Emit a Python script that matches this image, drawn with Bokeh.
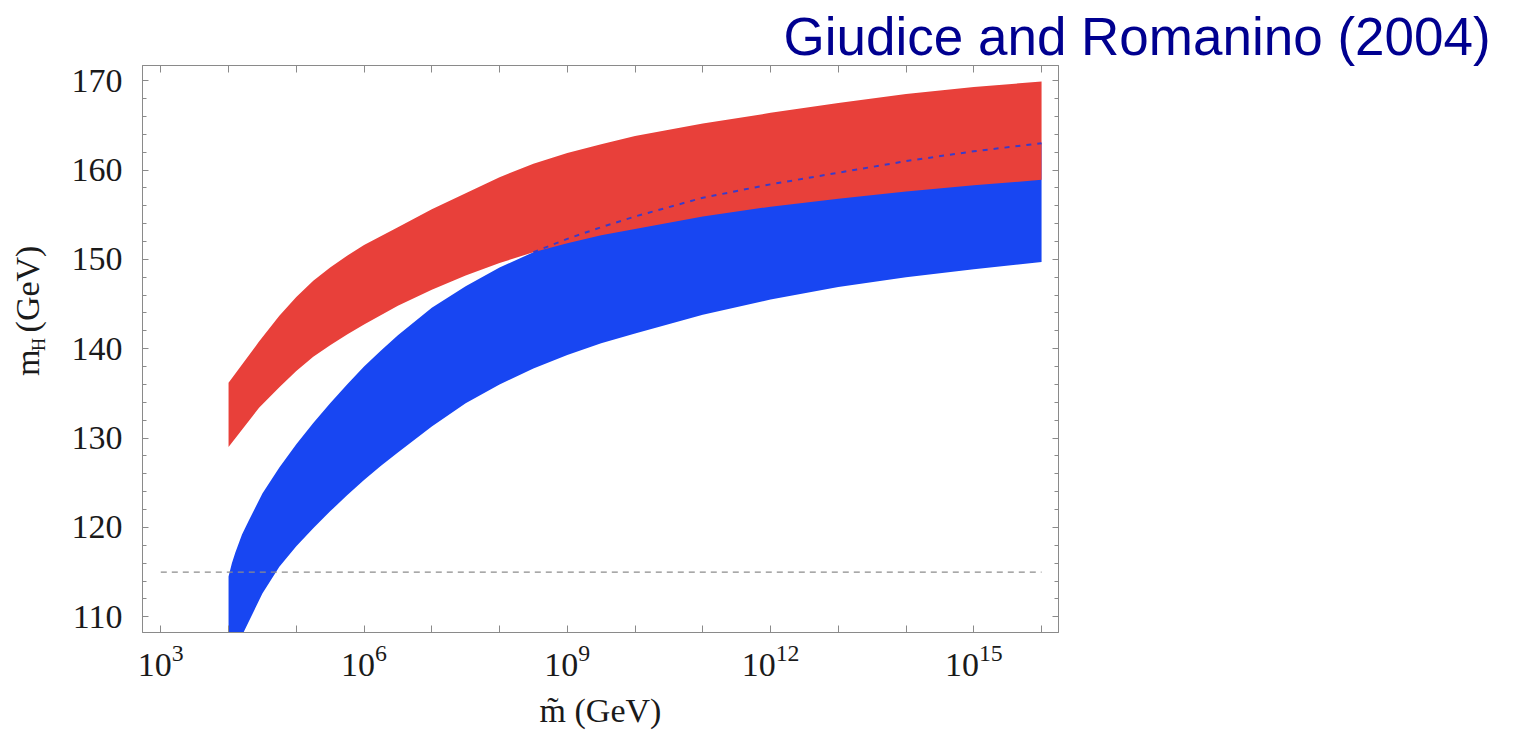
from bokeh.plotting import figure
from bokeh.models import LogAxis, LinearAxis, FixedTicker, Range1d, Title
from bokeh.embed import file_html
from bokeh.resources import INLINE

# ---------------- data ----------------
# upper (red) band
red_mtilde = [1.0e4, 2.82e4, 5.62e4, 1.0e5, 1.78e5, 3.16e5, 5.62e5, 1.0e6, 3.16e6, 1.0e7,
              3.16e7, 1.0e8, 3.16e8, 1.0e9, 3.16e9, 1.0e10, 1.0e11, 1.0e12, 1.0e13,
              1.0e14, 1.0e15, 1.0e16]
red_upper = [136.2, 140.8, 143.7, 145.8, 147.6, 149.1, 150.4, 151.6, 153.6, 155.6,
             157.4, 159.2, 160.7, 161.9, 162.9, 163.8, 165.2, 166.4, 167.5,
             168.5, 169.3, 169.9]
red_lower = [129.0, 133.4, 135.7, 137.5, 139.1, 140.4, 141.6, 142.7, 144.8, 146.6,
             148.2, 149.6, 150.8, 151.8, 152.7, 153.4, 154.8, 155.9, 156.8,
             157.6, 158.3, 158.9]

# lower (blue) band
blue_mtilde = [1.0e4, 1.12e4, 1.26e4, 1.58e4, 2.0e4, 3.16e4, 5.62e4, 1.0e5, 1.78e5, 3.16e5,
               5.62e5, 1.0e6, 1.78e6, 3.16e6, 1.0e7, 3.16e7, 1.0e8, 3.16e8, 1.0e9,
               3.16e9, 1.0e10, 1.0e11, 1.0e12, 1.0e13, 1.0e14, 1.0e15, 1.0e16]
blue_upper = [114.5, 116.0, 117.2, 119.2, 120.8, 123.8, 126.7, 129.3, 131.7, 133.9,
              136.0, 138.0, 139.8, 141.5, 144.6, 147.0, 149.1, 150.8, 152.3,
              153.6, 154.8, 156.9, 158.4, 159.7, 161.0, 162.1, 163.0]
blue_lower = [103.5, 104.8, 106.0, 107.9, 109.5, 112.6, 115.6, 117.9, 119.9, 121.8,
              123.6, 125.3, 126.9, 128.4, 131.3, 133.9, 136.0, 137.8, 139.3,
              140.6, 141.7, 143.8, 145.5, 146.9, 148.0, 148.9, 149.7]
hidden_from = 17          # blue upper edge hidden under the red band from here on

# LEP bound
lep_mtilde = [1.0e3, 1.0e16]
lep_mass = [115.0, 115.0]

# axes
x_major_ticks = [1e3, 1e6, 1e9, 1e12, 1e15]
x_minor_ticks = [1e4, 1e5, 1e7, 1e8, 1e10, 1e11, 1e13, 1e14, 1e16]
y_major_ticks = [110, 120, 130, 140, 150, 160, 170]
y_minor_ticks = [108, 112, 114, 116, 118, 122, 124, 126, 128, 132, 134, 136, 138,
                 142, 144, 146, 148, 152, 154, 156, 158, 162, 164, 166, 168]

title_text = "Giudice and Romanino (2004)"
x_label = "m\u0303 (GeV)"
y_label_main = "m\u00a0\u00a0(GeV)"
y_label_sub = "H"

# ---------------- figure ----------------
RED = "#E8403A"
BLUE = "#1846F2"
FRAME = "#8a8a8a"
SERIF = "Liberation Serif"
INK = "#1a1a1a"
NB = "\u00a0"

p = figure(width=1513, height=731, x_axis_type="log",
           x_range=Range1d(10 ** 2.73, 10 ** 16.25), y_range=Range1d(108.24, 171.7),
           toolbar_location=None, output_backend="svg",
           min_border_left=142, min_border_right=455, min_border_top=65, min_border_bottom=99)
p.grid.visible = False
p.outline_line_color = FRAME
p.outline_line_width = 1
p.background_fill_color = "white"
p.border_fill_color = "white"

p.varea(x=blue_mtilde, y1=blue_lower, y2=blue_upper, fill_color=BLUE)
p.varea(x=red_mtilde, y1=red_lower, y2=red_upper, fill_color=RED)
p.line(x=blue_mtilde[hidden_from:], y=blue_upper[hidden_from:], line_color="#3b3bc8",
       line_width=2, line_dash="5 6")
p.line(x=lep_mtilde, y=lep_mass, line_color="#8c8c8c", line_width=1.2, line_dash="6 5")

def style_axis(ax, show_labels, xaxis):
    ax.axis_line_color = FRAME
    ax.major_tick_line_color = FRAME
    ax.minor_tick_line_color = FRAME
    ax.major_tick_out = 0
    ax.minor_tick_out = 0
    ax.major_tick_in = 7 if xaxis else 6
    ax.minor_tick_in = 7 if xaxis else 4
    ax.major_label_text_font = SERIF
    if show_labels:
        ax.major_label_text_color = INK
        ax.major_label_text_font_size = "34px"
    else:
        ax.major_label_text_color = None
        ax.major_label_text_font_size = "1px"
        ax.major_label_standoff = 0

p.xaxis.ticker = FixedTicker(ticks=x_major_ticks, minor_ticks=x_minor_ticks)
p.yaxis.ticker = FixedTicker(ticks=y_major_ticks, minor_ticks=y_minor_ticks)
for ax in p.xaxis:
    style_axis(ax, True, True)
    ax.major_label_standoff = 12
    ax.axis_label = x_label
    ax.axis_label_text_font = SERIF
    ax.axis_label_text_font_size = "34px"
    ax.axis_label_text_font_style = "normal"
    ax.axis_label_text_color = INK
    ax.axis_label_standoff = 13
for ax in p.yaxis:
    style_axis(ax, True, False)
    ax.major_label_standoff = 20
    ax.axis_label = NB + NB + y_label_sub
    ax.axis_label_text_font = SERIF
    ax.axis_label_text_font_size = "18px"
    ax.axis_label_text_font_style = "normal"
    ax.axis_label_text_color = INK
    ax.axis_label_standoff = 20

# second left axis carries the main part of the y label
ylab = LinearAxis(ticker=FixedTicker(ticks=[]), axis_label=NB * 9 + y_label_main)
ylab.axis_line_color = None
ylab.major_tick_out = 0
ylab.minor_tick_out = 0
ylab.major_label_text_font_size = "1px"
ylab.major_label_text_color = None
ylab.major_label_standoff = 0
ylab.axis_label_text_font = SERIF
ylab.axis_label_text_font_size = "34px"
ylab.axis_label_text_font_style = "normal"
ylab.axis_label_text_color = INK
ylab.axis_label_standoff = -20
p.add_layout(ylab, "left")

top = LogAxis(ticker=FixedTicker(ticks=x_major_ticks, minor_ticks=x_minor_ticks))
style_axis(top, False, True)
p.add_layout(top, "above")
right = LinearAxis(ticker=FixedTicker(ticks=y_major_ticks, minor_ticks=y_minor_ticks))
style_axis(right, False, False)
p.add_layout(right, "right")

p.add_layout(Title(text=title_text, align="left", offset=641, standoff=0,
                   text_font="Liberation Sans", text_font_size="53px",
                   text_font_style="normal", text_color="#000090"), "above")

open("out.html", "w").write(file_html(p, INLINE))
